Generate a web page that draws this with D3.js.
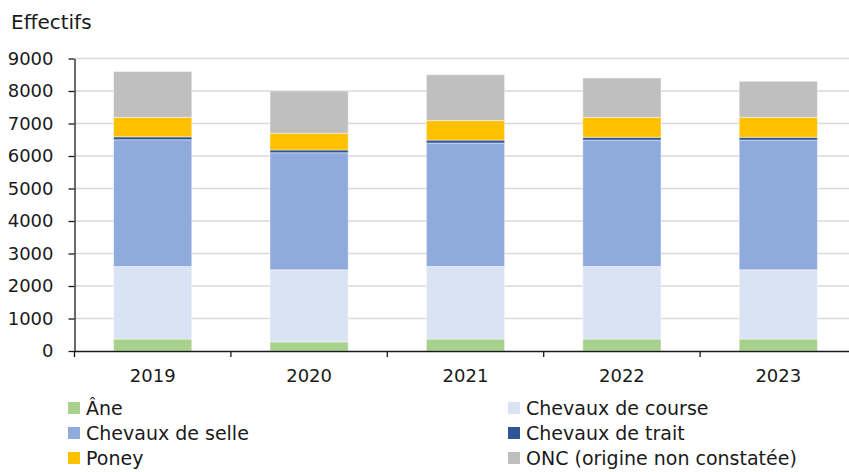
<!DOCTYPE html>
<html>
<head>
<meta charset="utf-8">
<script src="https://cdn.jsdelivr.net/npm/d3@7"></script>
<style>
  body { margin: 0; background: #fff; }
  text { font-family: "DejaVu Sans", sans-serif; fill: #1a1a1a; }
</style>
</head>
<body>
<div id="chart"></div>
<script>
// data
var years = ["2019", "2020", "2021", "2022", "2023"];
var ane     = [370, 280, 370, 370, 370];
var course  = [2230, 2220, 2230, 2230, 2130];
var selle   = [3900, 3600, 3800, 3890, 3990];
var trait   = [90, 85, 90, 85, 85];
var poney   = [600, 515, 600, 615, 615];
var onc     = [1410, 1300, 1410, 1210, 1110];
var seriesNames = ["Âne", "Chevaux de course", "Chevaux de selle", "Chevaux de trait", "Poney", "ONC (origine non constatée)"];
var colors = ["#A9D18E", "#DAE3F3", "#8FAADC", "#2F5597", "#FFC000", "#BFBFBF"];
var yTicks = [0, 1000, 2000, 3000, 4000, 5000, 6000, 7000, 8000, 9000];

var W = 849, H = 472;
var FONT = "'DejaVu Sans', sans-serif";
var svg = d3.select("#chart").append("svg")
    .attr("width", W)
    .attr("height", H);

var table = years.map(function (y, i) {
  return { year: y, s0: ane[i], s1: course[i], s2: selle[i], s3: trait[i], s4: poney[i], s5: onc[i] };
});
var keys = ["s0", "s1", "s2", "s3", "s4", "s5"];
var stack = d3.stack().keys(keys)(table);

var x = d3.scaleBand()
    .domain(years)
    .range([74.5, 856.5]);

var y = d3.scaleLinear()
    .domain([0, 9000])
    .range([351, 58.5]);

// gridlines
svg.append("g")
  .selectAll("line")
  .data(yTicks.slice(1))
  .enter()
  .append("line")
    .attr("x1", 75)
    .attr("x2", W)
    .attr("y1", function (d) { return y(d); })
    .attr("y2", function (d) { return y(d); })
    .style("stroke", "#d9d9d9")
    .style("stroke-width", 1.5);

// bars
var barW = x.bandwidth() * 0.5;
svg.append("g")
  .selectAll("g")
  .data(stack)
  .enter()
  .append("g")
    .style("fill", function (d, i) { return colors[i]; })
  .selectAll("rect")
  .data(function (d) { return d; })
  .enter()
  .append("rect")
    .attr("x", function (d) { return x(d.data.year) + (x.bandwidth() - barW) / 2; })
    .attr("width", barW)
    .attr("y", function (d) { return y(d[1]); })
    .attr("height", function (d) { return y(d[0]) - y(d[1]); })
    .style("stroke", "rgba(255,255,255,0.45)")
    .style("stroke-width", 1);

// y axis
var yAxis = svg.append("g")
    .attr("transform", "translate(74.5,0)")
    .call(d3.axisLeft(y).tickValues(yTicks).tickFormat(d3.format("d")).tickSize(6).tickSizeOuter(0).tickPadding(15));
yAxis.select(".domain").style("stroke", "#1a1a1a").style("stroke-width", 1.3);
yAxis.selectAll(".tick line").style("stroke", "#1a1a1a").style("stroke-width", 1.3);
yAxis.selectAll("text").style("font-size", "18px").style("font-family", FONT).style("fill", "#1a1a1a");

// x axis
var xAxis = svg.append("g")
    .attr("transform", "translate(0,351)")
    .call(d3.axisBottom(x).tickSize(0).tickSizeOuter(0).tickPadding(18));
xAxis.select(".domain").style("stroke", "#1a1a1a").style("stroke-width", 1.3);
xAxis.selectAll("text").style("font-size", "18px").style("font-family", FONT).style("fill", "#1a1a1a");

// x tick marks at category boundaries
svg.append("g")
  .selectAll("line")
  .data(years)
  .enter()
  .append("line")
    .attr("x1", function (d) { return x(d); })
    .attr("x2", function (d) { return x(d); })
    .attr("y1", 351)
    .attr("y2", 357)
    .style("stroke", "#1a1a1a")
    .style("stroke-width", 1.3);

// y axis title
svg.append("text")
    .attr("x", 11)
    .attr("y", 29)
    .style("font-size", "20px")
    .text("Effectifs");

// legend
var legend = svg.append("g")
  .selectAll("g")
  .data(seriesNames)
  .enter()
  .append("g")
    .attr("transform", function (d, i) {
      var col = i % 2, row = Math.floor(i / 2);
      return "translate(" + (col === 0 ? 68 : 508) + "," + (402 + row * 25) + ")";
    });
legend.append("rect")
    .attr("width", 12)
    .attr("height", 12)
    .style("fill", function (d, i) { return colors[i]; });
legend.append("text")
    .attr("x", 18)
    .attr("y", 6)
    .attr("dy", "0.35em")
    .style("font-size", "19px")
    .text(function (d) { return d; });
</script>
</body>
</html>
